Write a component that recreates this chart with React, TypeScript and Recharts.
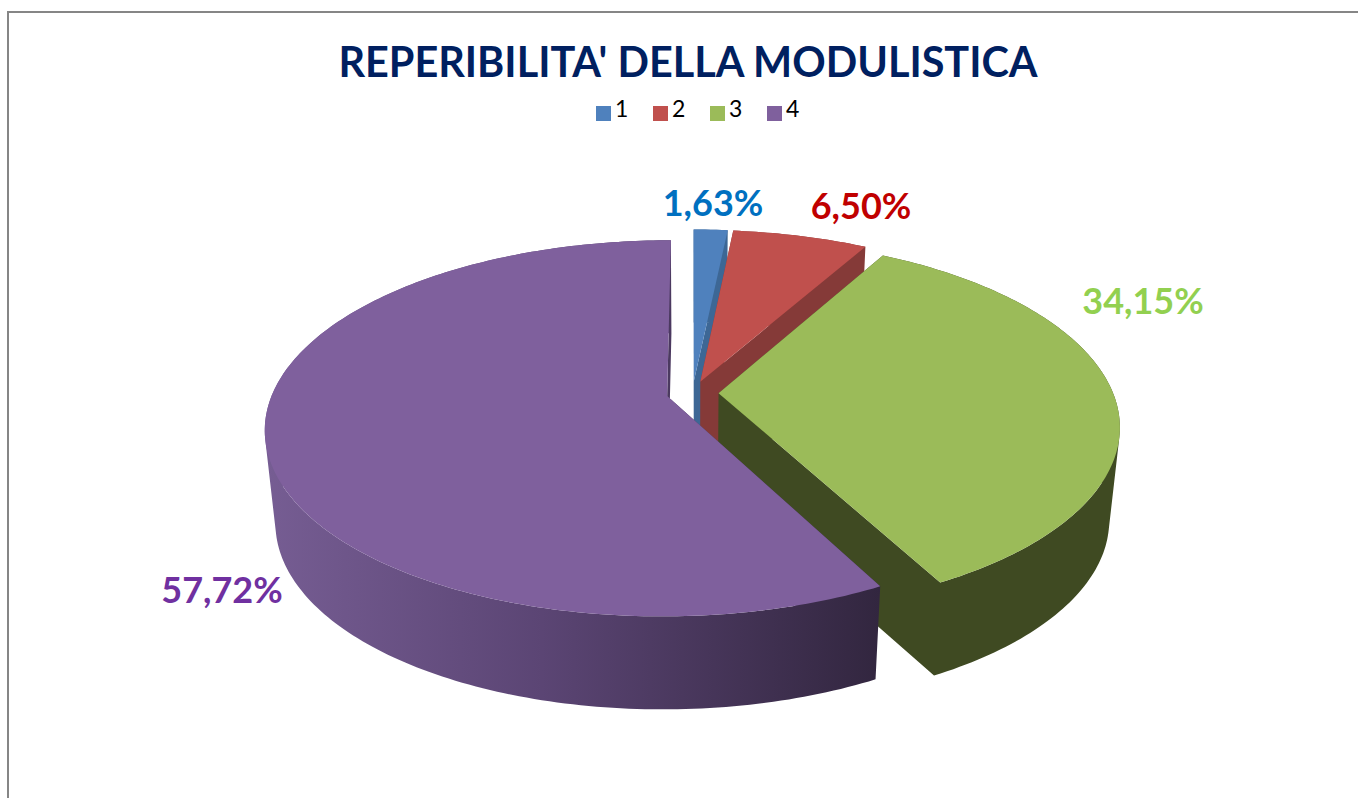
import React from 'react';
import { PieChart, Pie, Cell, Legend } from 'recharts';

const categories = ['1', '2', '3', '4'];
const shares = [1.63, 6.5, 34.15, 57.72];

const topColors = ['#4f81bd', '#c0504d', '#9bbb59', '#7f609d'];
const wallColors = ['#3d6795', '#853a38', '#3f4a22', 'url(#purpleWall)'];
const labelColors = ['#0070c0', '#c00000', '#92d050', '#7030a0'];
// label centres, placed by hand in the original chart
const labelSpots = [
  [713, 202],
  [861, 205],
  [1143, 300],
  [222, 589],
];

const data = categories.map((name, i) => ({ name, value: shares[i] }));

// 3D look: the pie circle is projected with a small perspective
const EXPLODE = 0.066;
const PERSPECTIVE = 0.172;
const TOP_Y_SCALE = 0.46;
const BOTTOM_Y_SCALE = 0.46;
const BOTTOM_X_SCALE = 0.975;
const DEPTH = 93;

const FONT = 'Lato, Carlito, Calibri, sans-serif';

const SliceShape = (props: any) => {
  const { cx, cy, outerRadius, startAngle, endAngle, name } = props;
  const i = categories.indexOf(String(name));
  const rad = Math.PI / 180;
  const mid = ((startAngle + endAngle) / 2) * rad;
  const ou = EXPLODE * Math.cos(mid);
  const ov = EXPLODE * Math.sin(mid);

  const top = (u: number, v: number) => {
    const w = 1 + PERSPECTIVE * v;
    return [cx + (outerRadius * u) / w, cy - (outerRadius * TOP_Y_SCALE * v) / w];
  };
  const bottom = (u: number, v: number) => {
    const w = 1 + PERSPECTIVE * v;
    return [
      cx + (outerRadius * BOTTOM_X_SCALE * u) / w,
      cy + DEPTH - (outerRadius * BOTTOM_Y_SCALE * v) / w,
    ];
  };

  // rim points, going along the slice's arc
  const rim: number[][] = [];
  const steps = Math.max(2, Math.ceil(Math.abs(endAngle - startAngle)));
  for (let s = 0; s <= steps; s++) {
    const a = (startAngle + ((endAngle - startAngle) * s) / steps) * rad;
    rim.push([ou + Math.cos(a), ov + Math.sin(a)]);
  }

  const toPath = (pts: number[][]) =>
    pts.map((p, k) => `${k ? 'L' : 'M'}${p[0].toFixed(2)},${p[1].toFixed(2)}`).join(' ') + ' Z';

  // every quad gets the same winding, so one path fills as a clean union
  const quad = (pts: number[][]) => {
    let area = 0;
    pts.forEach((p, k) => {
      const q = pts[(k + 1) % pts.length];
      area += p[0] * q[1] - q[0] * p[1];
    });
    return toPath(area < 0 ? [...pts].reverse() : pts);
  };

  const topRim = rim.map(p => top(p[0], p[1]));
  const bottomRim = rim.map(p => bottom(p[0], p[1]));
  const first = rim[0];
  const last = rim[rim.length - 1];

  const wall: string[] = [
    quad([top(ou, ov), top(first[0], first[1]), bottom(first[0], first[1]), bottom(ou, ov)]),
    quad([top(ou, ov), top(last[0], last[1]), bottom(last[0], last[1]), bottom(ou, ov)]),
  ];
  for (let s = 0; s < steps; s++) {
    wall.push(quad([topRim[s], topRim[s + 1], bottomRim[s + 1], bottomRim[s]]));
  }

  return (
    <g>
      <path d={wall.join(' ')} fill={wallColors[i]} />
      <path d={toPath([top(ou, ov), ...topRim])} fill={topColors[i]} />
    </g>
  );
};

const renderLabel = (props: any) => {
  const i = categories.indexOf(String(props.name));
  return (
    <text
      x={labelSpots[i][0]}
      y={labelSpots[i][1]}
      textAnchor="middle"
      dominantBaseline="central"
      fill={labelColors[i]}
      style={{ fontFamily: FONT, fontWeight: 700, fontSize: 36 }}
    >
      {shares[i].toFixed(2).replace('.', ',') + '%'}
    </text>
  );
};

export default function App() {
  return (
    <div style={{ position: 'absolute', left: 0, top: 0, width: 1358, height: 798, overflow: 'hidden', background: '#fff' }}>
      <div
        style={{
          position: 'absolute',
          left: 7,
          top: 11,
          right: 0,
          bottom: 0,
          borderTop: '2px solid #868686',
          borderLeft: '2px solid #868686',
        }}
      />
      <div
        style={{
          position: 'absolute',
          left: 188,
          top: 30,
          width: 1000,
          textAlign: 'center',
          fontFamily: FONT,
          fontWeight: 700,
          fontSize: 41.4,
          lineHeight: '62px',
          color: '#002060',
          whiteSpace: 'nowrap',
        }}
      >
        REPERIBILITA' DELLA MODULISTICA
      </div>
      <PieChart
        width={1358}
        height={798}
        margin={{ top: 0, right: 0, bottom: 0, left: 0 }}
        style={{ position: 'absolute', left: 0, top: 0 }}
      >
        <defs>
          <linearGradient id="purpleWall" gradientUnits="userSpaceOnUse" x1="265" y1="0" x2="880" y2="0">
            <stop offset="0%" stopColor="#765d93" />
            <stop offset="45%" stopColor="#5b4574" />
            <stop offset="100%" stopColor="#32263f" />
          </linearGradient>
        </defs>
        <Legend
          verticalAlign="top"
          align="center"
          iconType="square"
          iconSize={15}
          wrapperStyle={{ top: 94, left: 0, width: 1420 }}
          formatter={(value: string) => (
            <span style={{ color: '#000', marginRight: 14.7, fontFamily: FONT, fontSize: 23 }}>{value}</span>
          )}
        />
        <Pie
          data={data}
          dataKey="value"
          nameKey="name"
          cx={692.5}
          cy={365}
          outerRadius={394.5}
          startAngle={90}
          endAngle={-270}
          stroke="none"
          isAnimationActive={false}
          labelLine={false}
          label={renderLabel}
          shape={SliceShape}
        >
          {data.map((entry, i) => (
            <Cell key={entry.name} fill={topColors[i]} />
          ))}
        </Pie>
      </PieChart>
    </div>
  );
}
